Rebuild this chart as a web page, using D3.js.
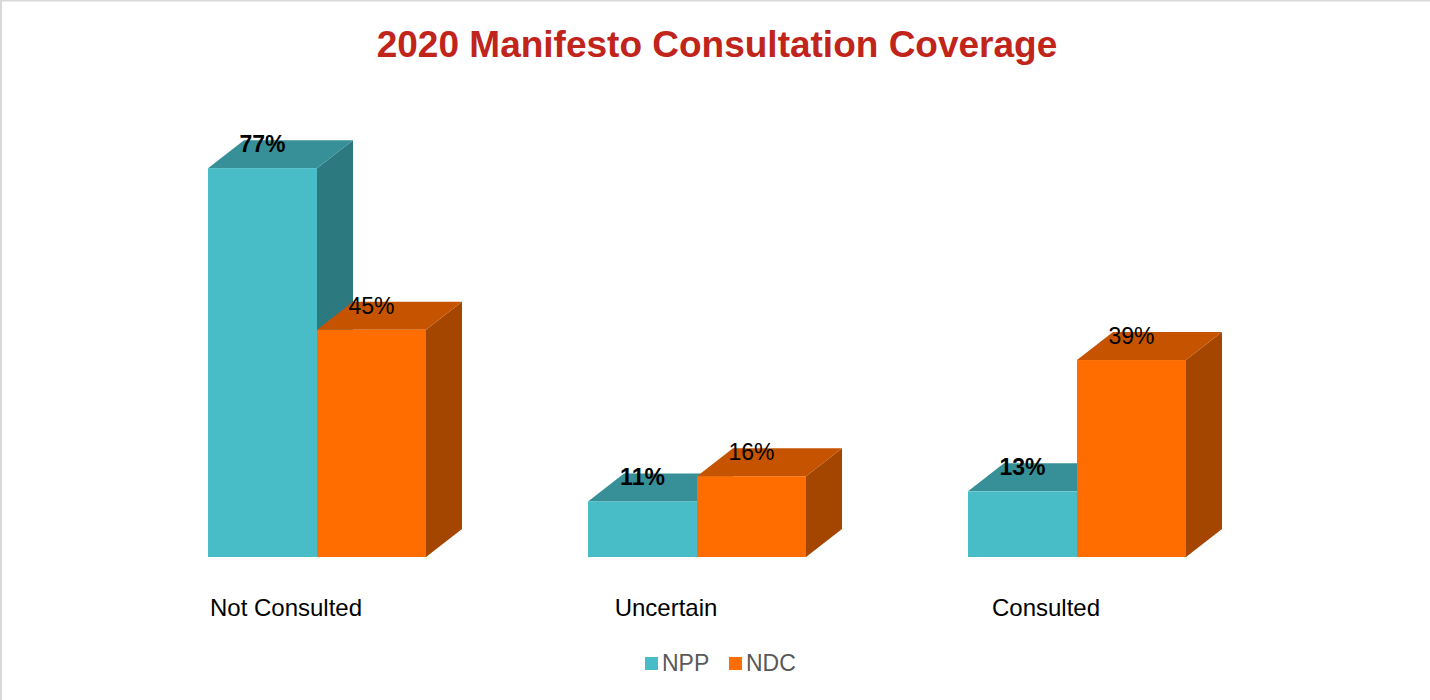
<!DOCTYPE html>
<html>
<head>
<meta charset="utf-8">
<script src="https://cdn.jsdelivr.net/npm/d3@7"></script>
<style>
  body { margin: 0; background: #fff; }
  svg { display: block; font-family: "Liberation Sans", Arial, sans-serif; }
</style>
</head>
<body>
<script>
// data
let categories = ["Not Consulted", "Uncertain", "Consulted"];
let seriesNames = ["NPP", "NDC"];
let nppValues = [77, 11, 13];
let ndcValues = [45, 16, 39];

// face colours: front, top, side
let colors = {
  NPP: { front: "#48bdc7", top: "#379098", side: "#2c7a80", bold: true },
  NDC: { front: "#ff6d00", top: "#c55300", side: "#a44600", bold: false }
};

let width = 1430;
let height = 700;
let depthX = 36;
let depthY = -28;

let data = categories.map((c, i) => ({
  category: c,
  values: [
    { series: "NPP", value: nppValues[i] },
    { series: "NDC", value: ndcValues[i] }
  ]
}));

let graph = d3
  .select("body")
  .append("svg")
  .attr("width", width)
  .attr("height", height);

// chart frame (only top and left edges show in the picture)
graph.append("line")
  .attr("x1", 0).attr("x2", width).attr("y1", 0.5).attr("y2", 0.5)
  .attr("stroke", "#d9d9d9").attr("stroke-width", 2);
graph.append("line")
  .attr("x1", 1).attr("x2", 1).attr("y1", 0).attr("y2", height)
  .attr("stroke", "#d9d9d9").attr("stroke-width", 2);

// title
graph.append("text")
  .attr("x", 717)
  .attr("y", 57)
  .attr("text-anchor", "middle")
  .attr("font-size", 37)
  .attr("font-weight", "bold")
  .attr("fill", "#c0241b")
  .text("2020 Manifesto Consultation Coverage");

// scales
let x0 = d3.scaleBand()
  .domain(categories)
  .range([127, 1267])
  .paddingInner(0.4263)
  .paddingOuter(0.21315);

let x1 = d3.scaleBand()
  .domain(seriesNames)
  .range([0, x0.bandwidth()]);

let y = d3.scaleLinear()
  .domain([0, 100])
  .range([557, 52]);

// bars, back to front: NPP first so the NDC bar covers its side
let group = graph.selectAll("g.group")
  .data(data)
  .enter()
  .append("g")
  .attr("class", "group")
  .attr("transform", d => `translate(${x0(d.category)},0)`);

let bar = group.selectAll("g.bar")
  .data(d => d.values)
  .enter()
  .append("g")
  .attr("class", "bar");

let w = x1.bandwidth();

// side face
bar.append("path")
  .attr("fill", d => colors[d.series].side)
  .attr("d", d => {
    let xr = x1(d.series) + w;
    let yt = y(d.value);
    let yb = y(0);
    return `M${xr},${yt}L${xr + depthX},${yt + depthY}L${xr + depthX},${yb + depthY}L${xr},${yb}Z`;
  });

// top face
bar.append("path")
  .attr("fill", d => colors[d.series].top)
  .attr("d", d => {
    let xl = x1(d.series);
    let yt = y(d.value);
    return `M${xl},${yt}L${xl + depthX},${yt + depthY}L${xl + w + depthX},${yt + depthY}L${xl + w},${yt}Z`;
  });

// front face
bar.append("rect")
  .attr("fill", d => colors[d.series].front)
  .attr("x", d => x1(d.series))
  .attr("y", d => y(d.value))
  .attr("width", w)
  .attr("height", d => y(0) - y(d.value));

// value labels
bar.append("text")
  .attr("x", d => x1(d.series) + w / 2)
  .attr("y", d => y(d.value) - 16)
  .attr("text-anchor", "middle")
  .attr("font-size", 23)
  .attr("font-weight", d => (colors[d.series].bold ? "bold" : "normal"))
  .attr("fill", "#000")
  .text(d => `${d.value}%`);

// category labels
graph.selectAll("text.cat")
  .data(categories)
  .enter()
  .append("text")
  .attr("class", "cat")
  .attr("x", d => x0(d) + x0.bandwidth() / 2 - 31)
  .attr("y", 616)
  .attr("text-anchor", "middle")
  .attr("font-size", 24)
  .attr("fill", "#000")
  .text(d => d);

// legend
let legend = graph.append("g").attr("transform", "translate(645,657)");
let legendItems = legend.selectAll("g")
  .data(seriesNames)
  .enter()
  .append("g")
  .attr("transform", (d, i) => `translate(${i * 84},0)`);

legendItems.append("rect")
  .attr("width", 13)
  .attr("height", 13)
  .attr("fill", d => colors[d].front);

legendItems.append("text")
  .attr("x", 17)
  .attr("y", 14)
  .attr("font-size", 23)
  .attr("fill", "#595959")
  .text(d => d);
</script>
</body>
</html>
